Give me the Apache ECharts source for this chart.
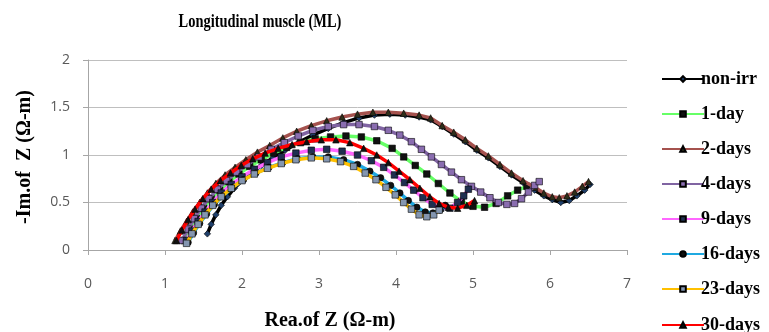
<!DOCTYPE html>
<html>
<head>
<meta charset="utf-8">
<script src="https://cdn.jsdelivr.net/npm/echarts@6/dist/echarts.min.js"></script>
<style>html,body{margin:0;padding:0;background:#fff;}#c{width:769px;height:332px;}</style>
</head>
<body>
<div id="c"></div>
<script>
var titleText = "Longitudinal muscle (ML)";
var xName = "Rea.of Z (\u03A9-m)";
var yName = "-Im.of  Z (\u03A9-m)";
var xTicks = [0, 1, 2, 3, 4, 5, 6, 7];
var yTicks = [0, 0.5, 1, 1.5, 2];

var nonIrr = [[1.55,0.17],[1.6,0.27],[1.66,0.37],[1.73,0.47],[1.81,0.56],[1.9,0.65],[2.0,0.73],[2.12,0.81],[2.25,0.89],[2.4,0.97],[2.56,1.05],[2.73,1.13],[2.92,1.21],[3.12,1.28],[3.32,1.34],[3.52,1.39],[3.72,1.42],[3.92,1.43],[4.12,1.42],[4.3,1.4],[4.45,1.37],[4.6,1.3],[4.75,1.22],[4.9,1.14],[5.05,1.05],[5.2,0.97],[5.35,0.88],[5.5,0.79],[5.65,0.71],[5.8,0.63],[5.92,0.57],[6.03,0.53],[6.14,0.5],[6.25,0.52],[6.35,0.57],[6.45,0.63],[6.52,0.69]];
var day1 = [[1.25,0.1],[1.33,0.22],[1.41,0.33],[1.5,0.44],[1.6,0.54],[1.71,0.63],[1.83,0.72],[1.96,0.8],[2.1,0.88],[2.25,0.95],[2.41,1.02],[2.58,1.08],[2.76,1.13],[2.95,1.17],[3.15,1.19],[3.35,1.2],[3.55,1.19],[3.75,1.15],[3.95,1.07],[4.1,0.98],[4.25,0.89],[4.4,0.8],[4.55,0.7],[4.7,0.6],[4.85,0.51],[5.0,0.46],[5.15,0.45],[5.3,0.49],[5.45,0.57],[5.58,0.63],[5.7,0.67]];
var days2 = [[1.13,0.1],[1.2,0.2],[1.28,0.3],[1.36,0.4],[1.45,0.5],[1.55,0.6],[1.66,0.7],[1.78,0.79],[1.91,0.87],[2.05,0.95],[2.2,1.03],[2.36,1.1],[2.53,1.18],[2.71,1.25],[2.9,1.31],[3.1,1.36],[3.3,1.4],[3.5,1.43],[3.7,1.45],[3.9,1.45],[4.1,1.44],[4.3,1.42],[4.45,1.39],[4.6,1.31],[4.75,1.24],[4.9,1.16],[5.05,1.07],[5.2,0.99],[5.35,0.9],[5.5,0.81],[5.65,0.73],[5.8,0.66],[5.92,0.6],[6.03,0.56],[6.12,0.55],[6.22,0.57],[6.32,0.61],[6.42,0.67],[6.5,0.72]];
var days4 = [[1.22,0.1],[1.3,0.22],[1.38,0.33],[1.47,0.44],[1.57,0.54],[1.68,0.64],[1.8,0.73],[1.93,0.82],[2.07,0.9],[2.22,0.98],[2.38,1.06],[2.55,1.13],[2.73,1.2],[2.92,1.26],[3.12,1.3],[3.32,1.32],[3.52,1.32],[3.72,1.3],[3.9,1.26],[4.05,1.21],[4.2,1.14],[4.33,1.06],[4.46,0.98],[4.59,0.9],[4.72,0.82],[4.85,0.74],[4.98,0.67],[5.1,0.61],[5.22,0.55],[5.33,0.5],[5.44,0.48],[5.54,0.49],[5.63,0.54],[5.72,0.61],[5.8,0.68],[5.86,0.72]];
var days9 = [[1.28,0.1],[1.35,0.2],[1.43,0.3],[1.52,0.4],[1.62,0.5],[1.73,0.6],[1.86,0.69],[2.0,0.77],[2.16,0.85],[2.33,0.92],[2.51,0.98],[2.7,1.02],[2.9,1.05],[3.1,1.06],[3.3,1.04],[3.5,1.0],[3.68,0.94],[3.84,0.87],[3.98,0.79],[4.11,0.71],[4.23,0.63],[4.35,0.55],[4.47,0.48],[4.58,0.44],[4.7,0.44],[4.8,0.5],[4.88,0.57],[4.94,0.64]];
var days16 = [[1.3,0.08],[1.37,0.18],[1.45,0.28],[1.54,0.38],[1.64,0.48],[1.75,0.57],[1.88,0.66],[2.02,0.74],[2.18,0.81],[2.35,0.87],[2.53,0.92],[2.72,0.96],[2.92,0.98],[3.12,0.98],[3.32,0.95],[3.5,0.9],[3.66,0.83],[3.8,0.76],[3.93,0.68],[4.05,0.6],[4.16,0.52],[4.27,0.45],[4.38,0.4],[4.48,0.39],[4.57,0.42],[4.64,0.47]];
var days23 = [[1.28,0.07],[1.35,0.17],[1.43,0.27],[1.52,0.37],[1.62,0.47],[1.73,0.56],[1.86,0.65],[2.0,0.73],[2.16,0.8],[2.33,0.86],[2.51,0.91],[2.7,0.95],[2.9,0.97],[3.1,0.96],[3.28,0.93],[3.45,0.88],[3.6,0.81],[3.74,0.74],[3.87,0.66],[3.99,0.58],[4.1,0.5],[4.2,0.43],[4.3,0.37],[4.4,0.35],[4.49,0.37],[4.56,0.42]];
var days30 = [[1.15,0.1],[1.22,0.21],[1.3,0.32],[1.39,0.43],[1.49,0.54],[1.6,0.64],[1.72,0.73],[1.85,0.81],[1.99,0.89],[2.14,0.96],[2.3,1.02],[2.47,1.07],[2.65,1.11],[2.84,1.14],[3.03,1.16],[3.22,1.16],[3.4,1.13],[3.58,1.07],[3.75,1.0],[3.9,0.92],[4.04,0.83],[4.18,0.74],[4.31,0.65],[4.44,0.56],[4.56,0.49],[4.68,0.45],[4.8,0.44],[4.92,0.47],[5.02,0.52]];

var seriesNames = ["non-irr","1-day","2-days","4-days","9-days","16-days","23-days","30-days"];
var seriesData = [nonIrr, day1, days2, days4, days9, days16, days23, days30];
var lineColors = ["#000000","#66ff66","#a5524e","#8064a2","#ff66ff","#1fa9e1","#ffc000","#ff0000"];
var markerColors = ["#1f3f6a","#111111","#2f2f1a","#8a6db0","#1f2f50","#111111","#8496b0","#111111"];
var markerShapes = ["diamond","rect","triangle","rect","rect","circle","rect","triangle"];

var chart = echarts.init(document.getElementById('c'), null, {renderer:'canvas'});
var series = seriesNames.map(function(n,i){
  return {
    name: n, type: 'line', data: seriesData[i], smooth: false,
    symbol: markerShapes[i], symbolSize: 6.5, showSymbol: true,
    lineStyle: {color: lineColors[i], width: 3.5},
    itemStyle: {color: markerColors[i], borderColor: '#000', borderWidth: 0.6},
    color: lineColors[i],
    animation: false, z: 2 + i
  };
});
var serif = "'Liberation Serif', 'DejaVu Serif', serif";
var legendBase = {
  orient: 'vertical', left: 656,
  itemWidth: 42, itemHeight: 7, itemGap: 17,
  textStyle: {fontFamily: serif, fontWeight: 'bold', fontSize: 18, color: '#000', padding: [0,0,0,-8]}
};
chart.setOption({
  animation: false,
  backgroundColor: '#ffffff',
  grid: {left: 88, right: 142, top: 60, bottom: 82, containLabel: false},
  xAxis: {
    type: 'value', min: xTicks[0], max: xTicks[xTicks.length-1], interval: 1,
    axisLine: {show: true, lineStyle: {color: '#a6a6a6', width: 1}},
    axisTick: {show: true, length: 5, lineStyle: {color: '#a6a6a6'}},
    axisLabel: {margin: 27, color: '#595959', fontSize: 14, fontFamily: "'Open Sans', sans-serif"},
    splitLine: {show: false}
  },
  yAxis: {
    type: 'value', min: yTicks[0], max: yTicks[yTicks.length-1], interval: 0.5,
    axisLine: {show: true, lineStyle: {color: '#a6a6a6', width: 1}},
    axisTick: {show: true, length: 5, lineStyle: {color: '#a6a6a6'}},
    axisLabel: {margin: 18, color: '#595959', fontSize: 14, fontFamily: "'Open Sans', sans-serif"},
    splitLine: {show: true, lineStyle: {color: '#bfbfbf', width: 1}}
  },
  legend: [
    Object.assign({}, legendBase, {top: 65, data: seriesNames.slice(0, 7)}),
    Object.assign({}, legendBase, {top: 311, data: seriesNames.slice(7)})
  ],
  graphic: [
    {type: 'text', x: 260, y: 22, scaleX: 0.76, style: {text: titleText, font: "bold 19px " + serif, fill: '#000', align: 'center', verticalAlign: 'middle'}},
    {type: 'text', x: 330, y: 321, style: {text: xName, font: "bold 20px " + serif, fill: '#000', align: 'center', verticalAlign: 'middle'}},
    {type: 'text', x: 25, y: 157, rotation: Math.PI/2, style: {text: yName, font: "bold 20px " + serif, fill: '#000', align: 'center', verticalAlign: 'middle'}}
  ],
  series: series
});
</script>
</body>
</html>
